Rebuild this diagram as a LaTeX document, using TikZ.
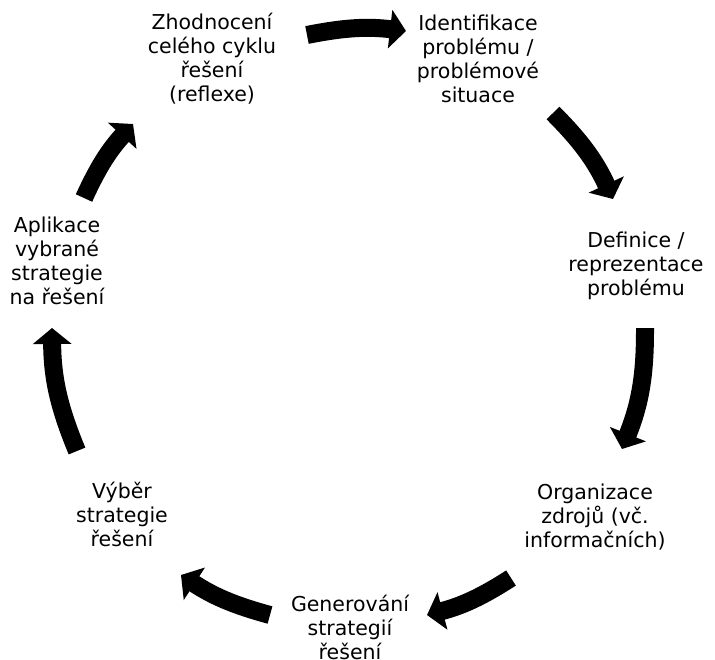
\documentclass[tikz,border=0pt]{standalone}
\usepackage{fontspec}
\setmainfont{DejaVu Sans}
\usetikzlibrary{arrows.meta}
\tikzset{
  lbl/.style={align=center, inner sep=0pt, font=\fontsize{20.5}{24}\selectfont},
  blockarrow/.style={line width=18pt, -{Triangle[length=16pt, width=38pt]}},
}
\begin{document}
\begin{tikzpicture}[x=1pt, y=-1pt]
\useasboundingbox (0,0) rectangle (715,659);
% labels
\node[lbl] (zh) at (212,59) {Zhodnocení\\celého cyklu\\řešení\\(reflexe)};
\node[lbl] (id) at (478,59) {Identifikace\\problému /\\problémové\\situace};
\node[lbl] (de) at (636,266) {Definice /\\reprezentace\\problému};
\node[lbl] (or) at (595,517) {Organizace\\zdrojů (vč.\\informačních)};
\node[lbl] (ge) at (350,627) {Generování\\strategií\\řešení};
\node[lbl] (vy) at (122,514) {Výběr\\strategie\\řešení};
\node[lbl] (ap) at (57,261) {Aplikace\\vybrané\\strategie\\na řešení};
% arrow end points
\coordinate (a1s) at (307,35);  \coordinate (a1e) at (406,31);
\coordinate (a2s) at (553,113); \coordinate (a2e) at (613,199);
\coordinate (a3s) at (645,328); \coordinate (a3e) at (622,449);
\coordinate (a4s) at (511,578); \coordinate (a4e) at (427,615);
\coordinate (a5s) at (270,615); \coordinate (a5e) at (181,575);
\coordinate (a6s) at (77,451);  \coordinate (a6e) at (52,328);
\coordinate (a7s) at (84,198);  \coordinate (a7e) at (133,124);
\draw[blockarrow] (a1s) to[bend left=9] (a1e);
\draw[blockarrow] (a2s) to[bend left=10] (a2e);
\draw[blockarrow] (a3s) to[bend left=11] (a3e);
\draw[blockarrow] (a4s) to[bend left=9] (a4e);
\draw[blockarrow] (a5s) to[bend left=9] (a5e);
\draw[blockarrow] (a6s) to[bend left=11] (a6e);
\draw[blockarrow] (a7s) to[bend left=9] (a7e);
\end{tikzpicture}
\end{document}
